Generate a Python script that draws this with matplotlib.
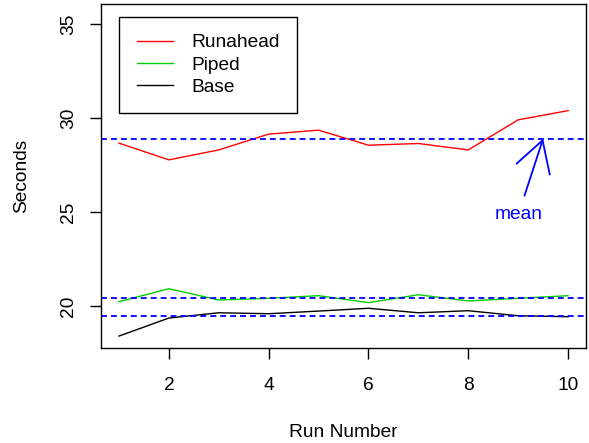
import numpy as np
import matplotlib.pyplot as plt

plt.rcParams['font.family'] = ['Liberation Sans', 'DejaVu Sans']

runs = np.arange(1, 11)
runahead = [28.67, 27.78, 28.31, 29.15, 29.36, 28.56, 28.65, 28.31, 29.91, 30.40]
piped = [20.23, 20.92, 20.32, 20.41, 20.55, 20.18, 20.60, 20.27, 20.41, 20.55]
base = [18.40, 19.36, 19.64, 19.59, 19.73, 19.88, 19.64, 19.75, 19.48, 19.43]

fs = 13.8

fig = plt.figure(figsize=(5.89, 4.43), dpi=100)
ax = fig.add_axes([0.1715, 0.2138, 0.8235, 0.7765])

ax.plot(runs, runahead, color='red', lw=1.0, label='Runahead')
ax.plot(runs, piped, color='#00CD00', lw=1.0, label='Piped')
ax.plot(runs, base, color='black', lw=1.0, label='Base')

for s in [runahead, piped, base]:
    ax.axhline(np.mean(s), color='blue', lw=1.3, ls=(0, (3.3, 2.2)))

ax.annotate('mean', xy=(9.5, np.mean(runahead)), xytext=(9.0, 24.85),
            textcoords='data', ha='center', va='center', color='blue', fontsize=fs,
            arrowprops=dict(arrowstyle='->,head_length=21.8,head_width=12.6',
                            mutation_scale=1, color='blue', lw=1.3,
                            shrinkA=6, shrinkB=0))

ax.set_xlim(0.64, 10.36)
ax.set_ylim(17.75, 36.06)
ax.set_xticks([2, 4, 6, 8, 10])
ax.set_yticks([20, 25, 30, 35])
ax.tick_params(direction='out', length=8, width=1, pad=9, labelsize=fs)
ax.tick_params(axis='x', pad=12.5)
for lab in ax.get_yticklabels():
    lab.set_rotation(90)
    lab.set_va('center')
for sp in ax.spines.values():
    sp.set_linewidth(1)

ax.set_xlabel('Run Number', fontsize=fs, labelpad=21.5)
ax.set_ylabel('Seconds', fontsize=fs, labelpad=22)

leg = ax.legend(loc='upper left', bbox_to_anchor=(0.0377, 0.964), fontsize=fs,
                fancybox=False, framealpha=1, edgecolor='black',
                handlelength=1.9, handletextpad=0.95, labelspacing=0.26,
                borderpad=0.9, borderaxespad=0)
leg.get_frame().set_linewidth(1)

fig.savefig('out.png', dpi=100)
